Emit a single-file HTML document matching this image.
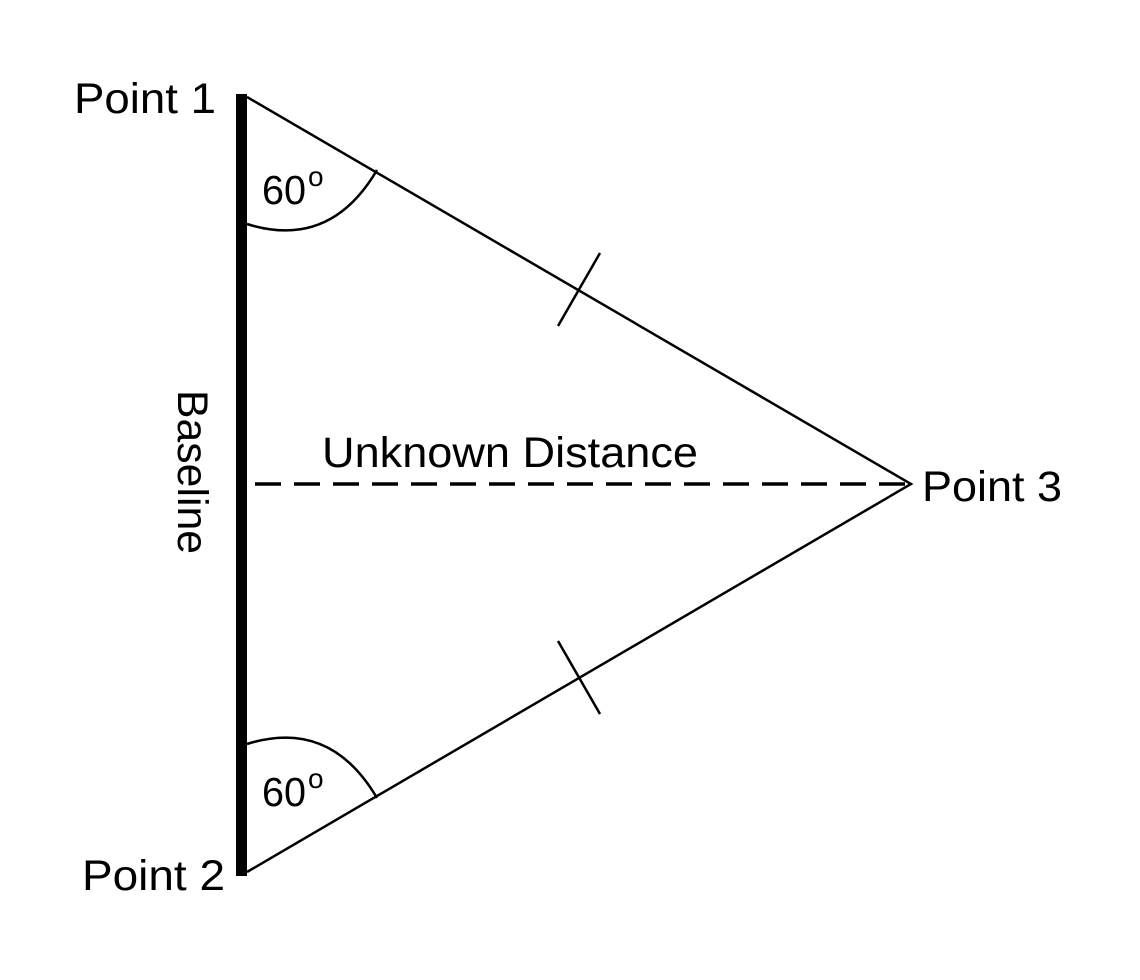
<!DOCTYPE html>
<html><head><meta charset="utf-8"><style>
html,body{margin:0;padding:0;background:#fff;}
svg{display:block;}
text{font-family:"Liberation Sans",sans-serif;fill:#000;}
</style></head><body>
<svg width="1140" height="980" viewBox="0 0 1140 980" xmlns="http://www.w3.org/2000/svg">
<rect width="1140" height="980" fill="#fff"/>
<rect x="236" y="94" width="11" height="782" fill="#000"/>
<polyline points="247,97 911,484 247,872" fill="none" stroke="#000" stroke-width="2.5"/>
<line x1="255" y1="484" x2="905" y2="484" stroke="#000" stroke-width="3.5" stroke-dasharray="26,13"/>
<path d="M247,224 Q330,250 377,170" fill="none" stroke="#000" stroke-width="2.5"/>
<path d="M247,744 Q330,718 377,798" fill="none" stroke="#000" stroke-width="2.5"/>
<line x1="558" y1="326" x2="600" y2="253" stroke="#000" stroke-width="2.5"/>
<line x1="558" y1="641" x2="600" y2="714" stroke="#000" stroke-width="2.5"/>
<text x="74" y="113" font-size="43" textLength="142" lengthAdjust="spacingAndGlyphs">Point 1</text>
<text x="82" y="890" font-size="43" textLength="143" lengthAdjust="spacingAndGlyphs">Point 2</text>
<text x="922" y="501" font-size="43" textLength="140" lengthAdjust="spacingAndGlyphs">Point 3</text>
<text x="322" y="467" font-size="43" textLength="376" lengthAdjust="spacingAndGlyphs">Unknown Distance</text>
<text x="262" y="204" font-size="41" textLength="44" lengthAdjust="spacingAndGlyphs">60</text>
<text x="308" y="186" font-size="28">o</text>
<text x="262" y="806" font-size="41" textLength="44" lengthAdjust="spacingAndGlyphs">60</text>
<text x="308" y="788" font-size="28">o</text>
<text transform="translate(178,390) rotate(90)" font-size="43" textLength="164" lengthAdjust="spacingAndGlyphs">Baseline</text>
</svg>
</body></html>
